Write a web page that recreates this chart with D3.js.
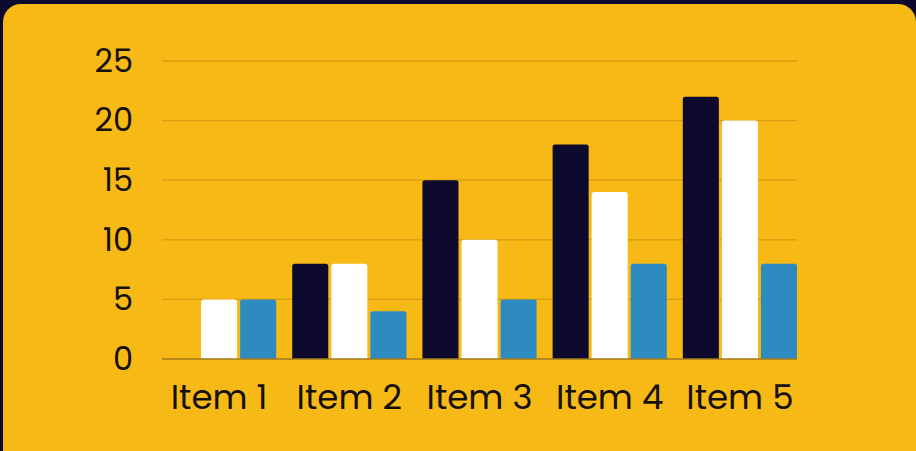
<!DOCTYPE html>
<html>
<head>
<meta charset="utf-8">
<script src="https://cdn.jsdelivr.net/npm/d3@7"></script>
<style>
  html, body { margin: 0; padding: 0; background: #0E0A2E; }
  svg { display: block; }
  text { font-family: "Poppins", "Lato", "Open Sans", sans-serif; }
</style>
</head>
<body>
<svg id="chart" width="916" height="451"></svg>
<script>
const categories = ["Item 1", "Item 2", "Item 3", "Item 4", "Item 5"];
const seriesNames = ["Series 1", "Series 2", "Series 3"];
const series1 = [0, 8, 15, 18, 22];
const series2 = [5, 8, 10, 14, 20];
const series3 = [5, 4, 5, 8, 8];
const yTicks = [0, 5, 10, 15, 20, 25];
const colors = ["#0E0A2E", "#FFFFFF", "#2E8BC0"];

(function () {
const svg = d3.select("#chart");
const W = 916, H = 451;

svg.append("rect").attr("width", W).attr("height", H).attr("fill", "#0E0A2E");
svg.append("rect")
  .attr("x", 3).attr("y", 4).attr("width", 913).attr("height", 470)
  .attr("rx", 18).attr("fill", "#F6B915");

const mLeft = 162, mRight = 797, mTop = 61, mBottom = 359;

const x0 = d3.scaleBand().domain(categories).range([mLeft, mRight]).paddingInner(0.123).paddingOuter(0);
const x1 = d3.scaleBand().domain(seriesNames).range([0, x0.bandwidth()]).paddingInner(0.077).paddingOuter(0);
const y = d3.scaleLinear().domain([0, 25]).range([mBottom, mTop]);

// gridlines
svg.append("g").selectAll("line").data(yTicks.filter(d => d > 0)).join("line")
  .attr("x1", mLeft).attr("x2", mRight)
  .attr("y1", d => y(d)).attr("y2", d => y(d))
  .attr("stroke", "#D99D0E").attr("stroke-width", 1.3);

const data = categories.map((c, i) => ({ cat: c, vals: [series1[i], series2[i], series3[i]] }));

const g = svg.append("g").selectAll("g").data(data).join("g")
  .attr("transform", d => `translate(${x0(d.cat)},0)`);

g.selectAll("path").data(d => d.vals.map((v, j) => ({ v, s: seriesNames[j], j })).filter(e => e.v > 0))
  .join("path")
  .attr("d", e => {
    const bx = x1(e.s), bw = x1.bandwidth(), by = y(e.v), bh = y(0) - y(e.v), r = 2.5;
    return `M${bx},${by + bh}V${by + r}Q${bx},${by} ${bx + r},${by}H${bx + bw - r}Q${bx + bw},${by} ${bx + bw},${by + r}V${by + bh}Z`;
  })
  .attr("fill", e => colors[e.j]);

// baseline
svg.append("line").attr("x1", mLeft).attr("x2", mRight)
  .attr("y1", y(0)).attr("y2", y(0))
  .attr("stroke", "#A07A1A").attr("stroke-width", 1.5);

// y axis labels
const yAxis = d3.axisLeft(y).tickValues(yTicks).tickSize(0).tickPadding(0);
const ya = svg.append("g").attr("transform", `translate(133,0)`).call(yAxis);
ya.select(".domain").remove();
ya.selectAll("text").attr("font-size", 32).attr("fill", "#15110A")
  .style("font-family", '"Poppins", "Lato", "Open Sans", sans-serif');

// x axis labels
const xAxis = d3.axisBottom(x0).tickSize(0).tickPadding(0);
const xa = svg.append("g").attr("transform", `translate(0,${mBottom})`).call(xAxis);
xa.select(".domain").remove();
xa.selectAll("text").attr("font-size", 34).attr("fill", "#15110A")
  .attr("dy", null).attr("y", 50)
  .style("font-family", '"Poppins", "Lato", "Open Sans", sans-serif');
})();
</script>
</body>
</html>
